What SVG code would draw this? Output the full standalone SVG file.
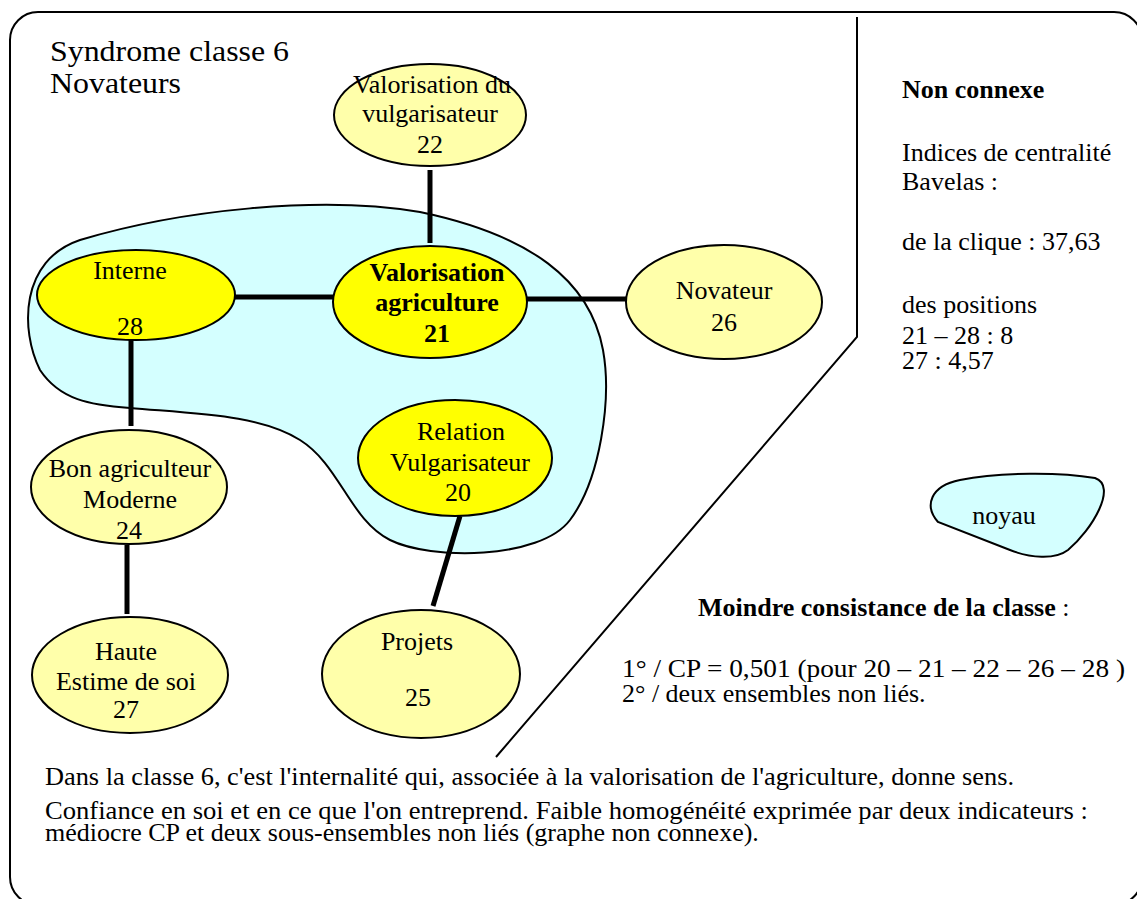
<svg xmlns="http://www.w3.org/2000/svg" width="1137" height="899" viewBox="0 0 1137 899">
<style>
text{font-family:"Liberation Serif","Times New Roman",serif;font-size:26px;fill:#000}
.c{text-anchor:middle}
.b{font-weight:bold}
.core{fill:#ffff00;stroke:#000;stroke-width:2}
.per{fill:#ffffaa;stroke:#000;stroke-width:2}
.blob{fill:#d4ffff;stroke:#000;stroke-width:2}
.edge{stroke:#000;stroke-width:5;fill:none}
</style>
<rect x="10" y="12" width="1132" height="893" rx="28" fill="#fff" stroke="#000" stroke-width="2"/>
<g id="title">
<text x="50" y="61" style="font-size:30px" textLength="239" lengthAdjust="spacingAndGlyphs">Syndrome classe 6</text>
<text x="50" y="93" style="font-size:30px" textLength="131" lengthAdjust="spacingAndGlyphs">Novateurs</text>
</g>
<g id="divider"><polyline points="857,17 857,337 496,757" fill="none" stroke="#000" stroke-width="2"/></g>
<g id="noyau-zone"><path class="blob" d="M130 408 C200 414 260 415 300 440 C340 465 350 520 390 540 C430 560 540 560 570 520 C600 480 612 400 603 350 C590 280 530 235 420 212 C320 195 180 210 80 240 C20 260 20 330 40 370 C60 400 90 405 130 408 Z"/></g>
<g id="connectors">
<line class="edge" x1="430" y1="170" x2="430" y2="243"/>
<line class="edge" x1="235" y1="297" x2="334" y2="297"/>
<line class="edge" x1="527" y1="299" x2="627" y2="299"/>
<line class="edge" x1="131" y1="340" x2="131" y2="426"/>
<line class="edge" x1="127" y1="545" x2="127" y2="614"/>
<line class="edge" x1="460" y1="516" x2="433" y2="606"/>
</g>
<g id="n22"><ellipse class="per" cx="430" cy="115" rx="96" ry="51"/>
<text class="c" x="432" y="93">Valorisation du</text><text class="c" x="430" y="122">vulgarisateur</text><text class="c" x="430" y="153">22</text></g>
<g id="n28"><ellipse class="core" cx="136" cy="295" rx="99" ry="45"/>
<text class="c" x="130" y="279">Interne</text><text class="c" x="130" y="335">28</text></g>
<g id="n21"><ellipse class="core" cx="430" cy="302" rx="97" ry="56"/>
<text class="c b" x="437" y="281">Valorisation</text><text class="c b" x="437" y="311">agriculture</text><text class="c b" x="437" y="342">21</text></g>
<g id="n26"><ellipse class="per" cx="724" cy="302" rx="98" ry="57"/>
<text class="c" x="724" y="299">Novateur</text><text class="c" x="724" y="331">26</text></g>
<g id="n20"><ellipse class="core" cx="455" cy="458" rx="97" ry="58"/>
<text class="c" x="461" y="440">Relation</text><text class="c" x="460" y="471">Vulgarisateur</text><text class="c" x="458" y="501">20</text></g>
<g id="n24"><ellipse class="per" cx="129" cy="487" rx="98" ry="57"/>
<text class="c" x="130" y="477">Bon agriculteur</text><text class="c" x="130" y="508">Moderne</text><text class="c" x="129" y="539">24</text></g>
<g id="n27"><ellipse class="per" cx="130" cy="675" rx="98" ry="58"/>
<text class="c" x="126" y="660">Haute</text><text class="c" x="126" y="690">Estime de soi</text><text class="c" x="126" y="718">27</text></g>
<g id="n25"><ellipse class="per" cx="421" cy="674" rx="99" ry="64"/>
<text class="c" x="417" y="650">Projets</text><text class="c" x="418" y="706">25</text></g>
<g id="info">
<text class="b" x="902" y="98">Non connexe</text>
<text x="902" y="161">Indices de centralité</text>
<text x="902" y="190">Bavelas :</text>
<text x="902" y="250">de la clique : 37,63</text>
<text x="902" y="313">des positions</text>
<text x="902" y="344">21 – 28 : 8</text>
<text x="902" y="369">27 : 4,57</text>
</g>
<g id="legend"><path class="blob" d="M938 522 C924 506 930 486 960 480 C1000 472 1060 472 1095 478 C1118 486 1092 530 1068 550 C1055 560 1030 558 1010 550 Z"/>
<text class="c" x="1004" y="524">noyau</text></g>
<g id="summary">
<text x="698" y="616"><tspan class="b">Moindre consistance de la classe</tspan> :</text>
<text x="622" y="677" textLength="503" lengthAdjust="spacingAndGlyphs">1° / CP = 0,501 (pour 20 – 21 – 22 – 26 – 28 )</text>
<text x="622" y="702">2° / deux ensembles non liés.</text>
</g>
<g id="caption">
<text x="45" y="785" textLength="969" lengthAdjust="spacingAndGlyphs">Dans la classe 6, c'est l'internalité qui, associée à la valorisation de l'agriculture, donne sens.</text>
<text x="45" y="819" textLength="1043" lengthAdjust="spacingAndGlyphs">Confiance en soi et en ce que l'on entreprend. Faible homogénéité exprimée par deux indicateurs :</text>
<text x="45" y="841">médiocre CP et deux sous-ensembles non liés (graphe non connexe).</text>
</g>
</svg>
